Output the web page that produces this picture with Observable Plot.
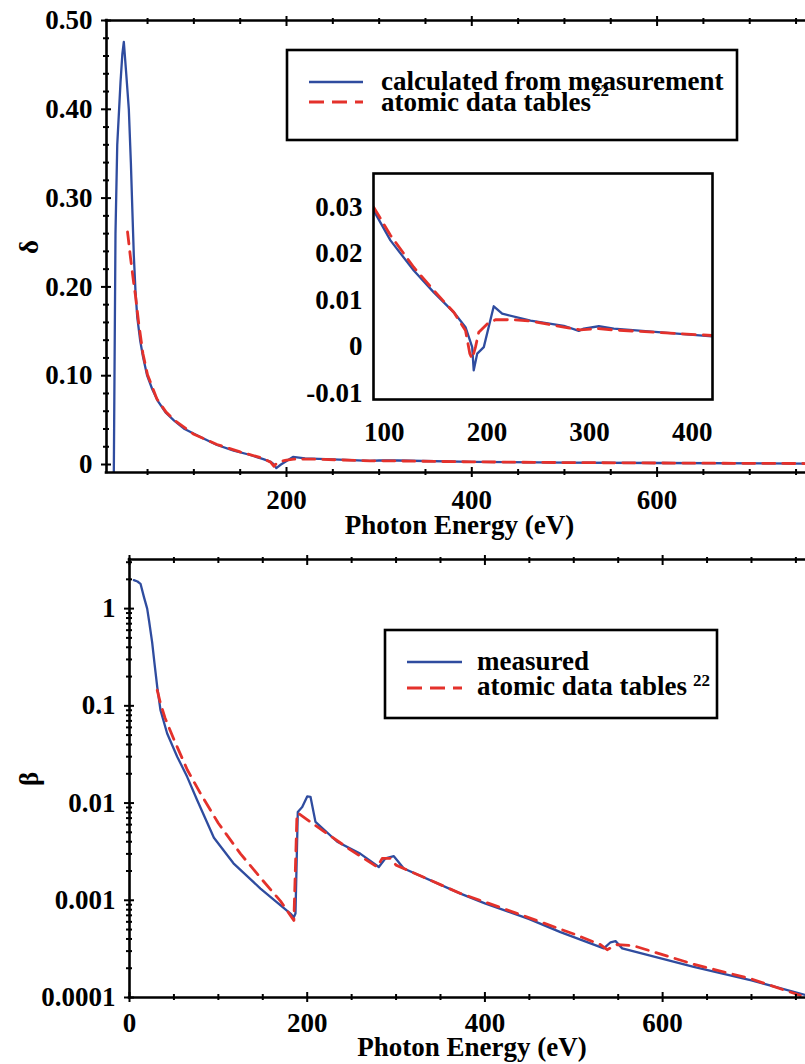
<!DOCTYPE html>
<html><head><meta charset="utf-8">
<script src="https://cdn.jsdelivr.net/npm/d3@7"></script>
<script src="https://cdn.jsdelivr.net/npm/@observablehq/plot@0.6"></script>
<style>
html,body{margin:0;padding:0;background:#fff;overflow:hidden;}
#wrap{position:relative;width:805px;height:1064px;overflow:hidden;background:#fff;}
#wrap > svg{position:absolute;}
</style></head><body><div id="wrap"></div>
<script>
// ---------- DATA ----------
// Top panel: delta (refractive index decrement) vs photon energy
const topEnergy = [13.6, 15.4, 17.3, 20.8, 22.8, 24.4, 27, 29.8, 32, 33.5, 35.2, 37, 38.9, 42, 45, 49.6, 55, 60.8, 70, 78.7, 90, 107.6, 125, 143, 160, 175, 183, 186.5, 189, 194, 207, 220, 250, 290, 300, 320, 400, 500, 600, 760];
const topMeasured = [-0.009, 0.26, 0.36, 0.43, 0.462, 0.476, 0.44, 0.40, 0.34, 0.29, 0.235, 0.195, 0.166, 0.14, 0.122, 0.10, 0.085, 0.072, 0.058, 0.0494, 0.040, 0.0307, 0.022, 0.0157, 0.011, 0.006, 0.003, 0.000, -0.004, 0.000, 0.0085, 0.007, 0.0058, 0.004, 0.0045, 0.0045, 0.003, 0.0022, 0.0017, 0.0011];
const topTablesEnergy = [28.4, 31.6, 35, 37, 40, 45, 50, 60, 70, 80, 100, 125, 150, 175, 183, 186.5, 189, 192, 200, 208, 230, 290, 320, 400, 500, 600, 760];
const topTables = [0.262, 0.233, 0.205, 0.19, 0.163, 0.125, 0.101, 0.074, 0.059, 0.049, 0.034, 0.0225, 0.0142, 0.0068, 0.0025, -0.002, 0.001, 0.003, 0.005, 0.006, 0.006, 0.0042, 0.004, 0.003, 0.0022, 0.0017, 0.0011];

// Inset (zoom of 90-420 eV)
const insetEnergy = [89.6, 106.1, 128.8, 148.3, 167.8, 179.2, 185.7, 187.2, 190.6, 197.0, 206.7, 214.9, 242.5, 274.9, 289.5, 294.4, 309.0, 323.6, 419.7];
const insetMeasured = [0.0294, 0.0229, 0.0164, 0.0117, 0.0074, 0.0042, -0.0001, -0.0051, -0.0015, -0.0001, 0.0087, 0.0071, 0.0056, 0.0045, 0.0034, 0.0039, 0.0044, 0.0039, 0.0022];
const insetTablesEnergy = [89.6, 106.1, 128.8, 148.3, 167.8, 179.2, 183.4, 185.7, 188.9, 192.1, 200.3, 208.4, 226.2, 242.5, 274.9, 291.1, 307.4, 323.6, 419.7];
const insetTables = [0.0301, 0.0240, 0.0171, 0.0121, 0.0074, 0.0035, -0.0015, -0.0026, -0.0001, 0.0031, 0.0049, 0.0058, 0.0058, 0.0055, 0.0042, 0.0036, 0.0039, 0.0036, 0.0024];

// Bottom panel: beta vs photon energy
const bottomEnergy = [4.9, 9, 12.4, 16.2, 19.9, 22, 25.5, 28, 31.2, 34.9, 42.4, 53.7, 64.9, 76.2, 95, 117, 147.4, 181.2, 184.9, 186.8, 189.4, 194.4, 200, 203.7, 209.3, 233.8, 260, 280.6, 288.1, 297.5, 308.7, 372.5, 400, 450, 485, 533.8, 541.4, 547, 554.5, 635, 700, 760.8];
const bottomMeasured = [1.96, 1.9, 1.80, 1.32, 1.0, 0.75, 0.45, 0.28, 0.157, 0.090, 0.052, 0.030, 0.0186, 0.0107, 0.0044, 0.0024, 0.00132, 0.00073, 0.00067, 0.00073, 0.0081, 0.0091, 0.0117, 0.0116, 0.0064, 0.0040, 0.0030, 0.0022, 0.0027, 0.00284, 0.00212, 0.00117, 0.00093, 0.00064, 0.00047, 0.00032, 0.00037, 0.00038, 0.00032, 0.000206, 0.00015, 0.000106];
const bottomTablesEnergy = [31.2, 35, 40, 50, 65, 80, 100, 125, 150, 170, 185, 188.5, 190.5, 205.6, 248.7, 278.8, 284.4, 293.8, 300, 372, 400, 450, 500, 530, 537.6, 548.9, 567.6, 635, 700, 755];
const bottomTables = [0.145, 0.105, 0.075, 0.045, 0.022, 0.0125, 0.0062, 0.0030, 0.0016, 0.00098, 0.00062, 0.0078, 0.0078, 0.0062, 0.0033, 0.0022, 0.0027, 0.0027, 0.0023, 0.00118, 0.00096, 0.00066, 0.00045, 0.00035, 0.00031, 0.00035, 0.00034, 0.00022, 0.000155, 0.000105];

// Ticks and labels
const topXMajor = [200, 400, 600];
const topXMinor = [50, 100, 150, 250, 300, 350, 450, 500, 550, 650, 700, 750];
const topYMajor = [0, 0.1, 0.2, 0.3, 0.4, 0.5];
const topYLabels = ["0", "0.10", "0.20", "0.30", "0.40", "0.50"];
const topYMinor = [0.02, 0.04, 0.06, 0.08, 0.12, 0.14, 0.16, 0.18, 0.22, 0.24, 0.26, 0.28, 0.32, 0.34, 0.36, 0.38, 0.42, 0.44, 0.46, 0.48];
const insetXTicks = [100, 200, 300, 400];
const insetYTicks = [-0.01, 0, 0.01, 0.02, 0.03];
const insetYLabels = ["-0.01", "0", "0.01", "0.02", "0.03"];
const botXMajor = [0, 200, 400, 600];
const botXMinor = [50, 100, 150, 250, 300, 350, 450, 500, 550, 650, 700, 750];
const botYMajor = [0.0001, 0.001, 0.01, 0.1, 1];
const botYLabels = ["0.0001", "0.001", "0.01", "0.1", "1"];
const botYMinor = [2e-4,3e-4,4e-4,5e-4,6e-4,7e-4,8e-4,9e-4, 2e-3,3e-3,4e-3,5e-3,6e-3,7e-3,8e-3,9e-3, 2e-2,3e-2,4e-2,5e-2,6e-2,7e-2,8e-2,9e-2, 0.2,0.3,0.4,0.5,0.6,0.7,0.8,0.9, 2, 3];

const legendTop = ["calculated from measurement", "atomic data tables"];
const legendBottom = ["measured", "atomic data tables"];
const refMark = "22";

// ---------- STYLE ----------
const BLUE = "#2f4c9f", RED = "#e4312b";
const FONT = "'Liberation Serif','Times New Roman',Times,serif";
const style = {fontFamily: FONT, fontSize: "27px", fontWeight: "bold", background: "transparent", overflow: "visible", color: "black"};
const pts = (xs, ys) => xs.map((x, i) => ({x, y: ys[i]}));
const blank = () => "";
const tk = {stroke: "black", strokeWidth: 2, tickFormat: blank, label: null};

const wrap = document.getElementById("wrap");
function place(el, left, top) { el.style.left = left + "px"; el.style.top = top + "px"; wrap.appendChild(el); }

// ---------- TOP PANEL ----------
const topXDomain = [5.7, 760.2];
const topYDomain = [-0.009, 0.5];
const topPlot = Plot.plot({
  width: 805, height: 548,
  marginLeft: 106, marginRight: 0, marginTop: 20, marginBottom: 76,
  x: {domain: topXDomain, label: null},
  y: {domain: topYDomain, label: null},
  style,
  marks: [
    Plot.line(pts(topEnergy, topMeasured), {x: "x", y: "y", stroke: BLUE, strokeWidth: 2.3, clip: true}),
    Plot.line(pts(topTablesEnergy, topTables), {x: "x", y: "y", stroke: RED, strokeWidth: 2.8, strokeDasharray: "12,8", clip: true}),
    Plot.ruleX([topXDomain[0]], {stroke: "black", strokeWidth: 2.6, strokeLinecap: "square"}),
    Plot.ruleY(topYDomain, {stroke: "black", strokeWidth: 2.6, strokeLinecap: "square"}),
    Plot.axisX(topXMinor, {...tk, anchor: "bottom", tickSize: 6, dy: -3}),
    Plot.axisX(topXMajor, {...tk, anchor: "bottom", tickSize: 10, dy: -5}),
    Plot.axisX(topXMinor, {...tk, anchor: "top", tickSize: 6, dy: 3}),
    Plot.axisX(topXMajor, {...tk, anchor: "top", tickSize: 10, dy: 5}),
    Plot.axisY(topYMinor, {...tk, anchor: "left", tickSize: 6, dx: 3}),
    Plot.axisY(topYMajor, {...tk, anchor: "left", tickSize: 10, dx: 5}),
    Plot.axisX(topXMajor, {anchor: "bottom", tickSize: 0, tickPadding: 17, label: null, tickFormat: d => String(d), fill: "black"}),
    Plot.axisY(topYMajor, {anchor: "left", tickSize: 0, tickPadding: 14, label: null, tickFormat: d => topYLabels[topYMajor.indexOf(d)], fill: "black"})
  ]
});
place(topPlot, 0, 0);

// ---------- INSET ----------
const insetXDomain = [89.6, 419.7];
const insetYDomain = [-0.01138, 0.0373];
const insetPlot = Plot.plot({
  width: 440, height: 290,
  marginLeft: 93, marginRight: 8, marginTop: 13, marginBottom: 51,
  x: {domain: insetXDomain, label: null},
  y: {domain: insetYDomain, label: null},
  style,
  marks: [
    Plot.frame({fill: "white", stroke: null}),
    Plot.line(pts(insetEnergy, insetMeasured), {x: "x", y: "y", stroke: BLUE, strokeWidth: 2.3, clip: true}),
    Plot.line(pts(insetTablesEnergy, insetTables), {x: "x", y: "y", stroke: RED, strokeWidth: 2.8, strokeDasharray: "13,8", clip: true}),
    Plot.frame({stroke: "black", strokeWidth: 2.6}),
    Plot.axisX(insetXTicks, {anchor: "bottom", tickSize: 0, tickPadding: 22, label: null, tickFormat: d => String(d), fill: "black"}),
    Plot.axisY(insetYTicks, {anchor: "left", tickSize: 0, tickPadding: 11, label: null, tickFormat: d => insetYLabels[insetYTicks.indexOf(d)], fill: "black"})
  ]
});
place(insetPlot, 280, 160);

// ---------- BOTTOM PANEL ----------
const botXDomain = [0, 760.8];
const botYDomain = [1e-4, 3.2];
const botPlot = Plot.plot({
  width: 805, height: 524,
  marginLeft: 129, marginRight: 0, marginTop: 19, marginBottom: 67,
  x: {domain: botXDomain, label: null},
  y: {type: "log", domain: botYDomain, label: null},
  style,
  marks: [
    Plot.line(pts(bottomEnergy, bottomMeasured), {x: "x", y: "y", stroke: BLUE, strokeWidth: 2.3, clip: true}),
    Plot.line(pts(bottomTablesEnergy, bottomTables), {x: "x", y: "y", stroke: RED, strokeWidth: 2.8, strokeDasharray: "12,8", clip: true}),
    Plot.ruleX([botXDomain[0]], {stroke: "black", strokeWidth: 2.6, strokeLinecap: "square"}),
    Plot.ruleY(botYDomain, {stroke: "black", strokeWidth: 2.6, strokeLinecap: "square"}),
    Plot.axisX(botXMinor, {...tk, anchor: "bottom", tickSize: 6, dy: -3}),
    Plot.axisX(botXMajor, {...tk, anchor: "bottom", tickSize: 10, dy: -5}),
    Plot.axisX(botXMinor, {...tk, anchor: "top", tickSize: 6, dy: 3}),
    Plot.axisX(botXMajor, {...tk, anchor: "top", tickSize: 10, dy: 5}),
    Plot.axisY(botYMinor, {...tk, anchor: "left", tickSize: 6, dx: 3}),
    Plot.axisY(botYMajor, {...tk, anchor: "left", tickSize: 10, dx: 5}),
    Plot.axisX(botXMajor, {anchor: "bottom", tickSize: 0, tickPadding: 15, label: null, tickFormat: d => String(d), fill: "black"}),
    Plot.axisY(botYMajor, {anchor: "left", tickSize: 0, tickPadding: 14, label: null, tickFormat: d => botYLabels[botYMajor.indexOf(d)], fill: "black"})
  ]
});
place(botPlot, 0, 540);

// ---------- OVERLAY: legends and axis titles ----------
const ov = d3.create("svg").attr("width", 805).attr("height", 1064)
  .style("left", "0px").style("top", "0px")
  .attr("font-family", FONT).attr("font-weight", "bold").attr("font-size", 27);

function legend(g, box, labels, rows) {
  g.append("rect").attr("x", box[0]).attr("y", box[1]).attr("width", box[2]).attr("height", box[3])
    .attr("fill", "white").attr("stroke", "black").attr("stroke-width", 2.6);
  rows.forEach((r, i) => {
    g.append("line").attr("x1", r.x1).attr("x2", r.x2).attr("y1", r.ly).attr("y2", r.ly)
      .attr("stroke", i === 0 ? BLUE : RED).attr("stroke-width", i === 0 ? 2.3 : 2.8)
      .attr("stroke-dasharray", i === 0 ? null : "15,8");
    g.append("text").attr("x", r.tx).attr("y", r.ty).text(labels[i]);
  });
}
const gTop = ov.append("g");
legend(gTop, [287, 50, 450, 90], legendTop, [
  {x1: 309, x2: 363, ly: 82, tx: 381, ty: 90},
  {x1: 309, x2: 363, ly: 102, tx: 381, ty: 111}
]);
gTop.append("text").attr("x", 592).attr("y", 96).attr("font-size", 17).text(refMark);

const gBot = ov.append("g");
legend(gBot, [385, 630, 332, 88], legendBottom, [
  {x1: 407, x2: 462, ly: 662, tx: 477, ty: 670},
  {x1: 407, x2: 462, ly: 688, tx: 477, ty: 695}
]);
gBot.append("text").attr("x", 693).attr("y", 686).attr("font-size", 17).text(refMark);

ov.append("text").attr("x", 459.5).attr("y", 534).attr("text-anchor", "middle").text("Photon Energy (eV)");
ov.append("text").attr("x", 472).attr("y", 1056).attr("text-anchor", "middle").text("Photon Energy (eV)");
ov.append("text").attr("transform", "translate(29,247) rotate(-90)").attr("text-anchor", "middle").attr("dominant-baseline", "central").text("δ");
ov.append("text").attr("transform", "translate(29,779) rotate(-90)").attr("text-anchor", "middle").attr("dominant-baseline", "central").text("β");

wrap.appendChild(ov.node());
</script></body></html>
